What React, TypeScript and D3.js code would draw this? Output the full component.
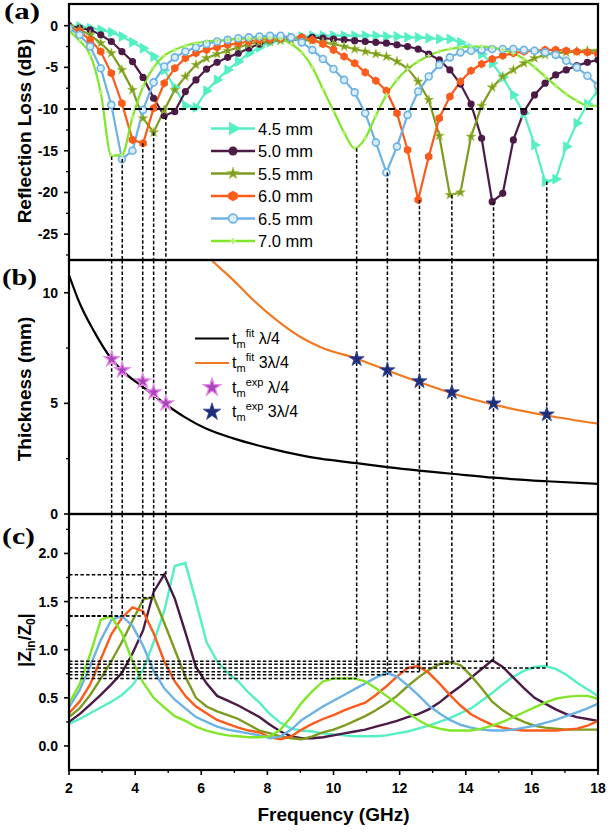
import React from "react";
import * as d3 from "d3";

// ---------- data ----------
const freq = [2, 2.32, 2.64, 2.96, 3.28, 3.6, 3.92, 4.24, 4.56, 4.88, 5.2, 5.52, 5.84, 6.16, 6.48, 6.8, 7.12, 7.44, 7.76, 8.08, 8.4, 8.72, 9.04, 9.36, 9.68, 10, 10.32, 10.64, 10.96, 11.28, 11.6, 11.92, 12.24, 12.56, 12.88, 13.2, 13.52, 13.84, 14.16, 14.48, 14.8, 15.12, 15.44, 15.76, 16.08, 16.4, 16.72, 17.04, 17.36, 17.68, 18];
const seriesNames = ["4.5 mm", "5.0 mm", "5.5 mm", "6.0 mm", "6.5 mm", "7.0 mm"];

const rl45 = [0.0, -0.1, -0.3, -0.5, -0.8, -1.3, -2.0, -2.7, -3.7, -5.3, -7.4, -9.6, -9.8, -7.8, -6.5, -5.3, -4.3, -3.3, -2.6, -2.0, -1.6, -1.4, -1.3, -1.2, -1.2, -1.2, -1.2, -1.2, -1.2, -1.2, -1.3, -1.3, -1.4, -1.4, -1.5, -1.6, -1.6, -2.0, -2.7, -3.4, -4.5, -6.2, -8.3, -10.5, -14.3, -18.7, -18.4, -14.5, -11.7, -9.4, -7.8];
const rl50 = [0.0, -0.3, -0.5, -1.1, -1.9, -3.1, -4.3, -6.2, -8.7, -10.8, -10.3, -7.9, -6.5, -5.2, -4.4, -3.8, -3.3, -2.7, -2.2, -1.8, -1.6, -1.5, -1.4, -1.4, -1.5, -1.6, -1.7, -1.8, -1.9, -2.0, -2.1, -2.3, -2.5, -2.8, -3.4, -4.1, -5.3, -7.0, -9.4, -13.5, -21.1, -20.1, -13.7, -10.3, -8.3, -6.9, -5.9, -5.3, -4.8, -4.4, -4.1];
const rl55 = [-0.1, -0.5, -1.1, -2.1, -3.3, -5.3, -7.7, -11.1, -12.8, -10.1, -7.7, -6.1, -4.7, -3.9, -3.4, -3.0, -2.6, -2.2, -2.0, -1.9, -1.8, -1.7, -1.7, -1.8, -2.0, -2.2, -2.5, -2.8, -3.1, -3.4, -3.7, -4.3, -5.1, -6.7, -8.9, -13.2, -20.3, -20.0, -13.3, -9.6, -7.4, -6.1, -5.3, -4.5, -3.9, -3.5, -3.3, -3.2, -3.1, -3.0, -3.0];
const rl60 = [-0.2, -0.7, -1.7, -3.1, -5.7, -9.3, -13.7, -14.1, -9.9, -6.9, -5.1, -3.9, -3.3, -2.9, -2.6, -2.3, -2.1, -1.9, -1.7, -1.6, -1.5, -1.4, -1.4, -1.7, -2.2, -2.9, -3.7, -4.5, -5.6, -6.6, -7.8, -10.5, -14.9, -20.9, -15.7, -11.1, -8.5, -6.7, -5.4, -4.6, -4.0, -3.6, -3.3, -3.1, -3.0, -2.9, -2.9, -3.0, -3.1, -3.2, -3.4];
const rl65 = [-0.3, -1.1, -2.5, -5.1, -9.5, -16.0, -15.0, -10.1, -6.8, -4.9, -3.8, -3.1, -2.6, -2.2, -1.9, -1.7, -1.5, -1.4, -1.3, -1.2, -1.2, -1.4, -2.0, -2.9, -4.0, -5.2, -6.5, -8.0, -10.5, -14.0, -17.6, -14.5, -10.7, -7.9, -6.1, -4.7, -3.8, -3.2, -3.0, -2.9, -2.8, -2.8, -2.8, -2.9, -3.0, -3.2, -3.5, -4.2, -5.0, -6.0, -7.2];
const rl70 = [-0.6, -1.8, -3.5, -8.0, -15.6, -15.5, -11.0, -7.3, -5.0, -3.6, -2.9, -2.4, -2.1, -1.9, -1.8, -1.7, -1.6, -1.55, -1.5, -1.5, -1.6, -2.2, -3.2, -5.0, -7.6, -10.2, -12.8, -14.7, -13.5, -10.8, -8.3, -6.5, -5.2, -4.3, -3.6, -3.1, -2.8, -2.6, -2.5, -2.5, -2.6, -2.9, -3.3, -4.0, -5.0, -6.1, -7.2, -8.2, -9.0, -9.6, -9.6];

const z45 = [0.23, 0.28, 0.34, 0.40, 0.46, 0.53, 0.63, 0.79, 1.08, 1.40, 1.87, 1.90, 1.50, 1.08, 0.88, 0.76, 0.67, 0.55, 0.45, 0.33, 0.24, 0.18, 0.16, 0.15, 0.13, 0.12, 0.11, 0.10, 0.10, 0.10, 0.11, 0.13, 0.15, 0.18, 0.21, 0.25, 0.29, 0.34, 0.39, 0.47, 0.55, 0.64, 0.72, 0.78, 0.82, 0.83, 0.80, 0.74, 0.66, 0.59, 0.52];
const z50 = [0.25, 0.33, 0.43, 0.53, 0.64, 0.76, 0.96, 1.20, 1.60, 1.78, 1.53, 1.18, 0.82, 0.65, 0.52, 0.47, 0.42, 0.36, 0.30, 0.22, 0.15, 0.10, 0.08, 0.08, 0.09, 0.11, 0.13, 0.15, 0.17, 0.20, 0.23, 0.26, 0.30, 0.33, 0.38, 0.45, 0.54, 0.62, 0.71, 0.80, 0.89, 0.82, 0.71, 0.60, 0.50, 0.44, 0.38, 0.33, 0.30, 0.28, 0.26];
const z55 = [0.30, 0.39, 0.53, 0.70, 0.88, 1.08, 1.30, 1.52, 1.55, 1.28, 1.00, 0.72, 0.50, 0.41, 0.36, 0.32, 0.28, 0.22, 0.16, 0.13, 0.10, 0.08, 0.07, 0.10, 0.14, 0.17, 0.21, 0.26, 0.31, 0.37, 0.44, 0.52, 0.62, 0.71, 0.79, 0.85, 0.87, 0.84, 0.73, 0.60, 0.46, 0.37, 0.30, 0.25, 0.21, 0.19, 0.18, 0.17, 0.17, 0.17, 0.17];
const z60 = [0.34, 0.46, 0.64, 0.90, 1.16, 1.33, 1.44, 1.40, 1.17, 0.88, 0.67, 0.52, 0.41, 0.34, 0.27, 0.23, 0.19, 0.16, 0.14, 0.09, 0.07, 0.10, 0.17, 0.23, 0.28, 0.32, 0.37, 0.41, 0.45, 0.53, 0.62, 0.72, 0.81, 0.83, 0.76, 0.65, 0.53, 0.42, 0.33, 0.27, 0.22, 0.19, 0.17, 0.16, 0.16, 0.16, 0.16, 0.17, 0.18, 0.21, 0.26];
const z65 = [0.40, 0.58, 0.83, 1.10, 1.31, 1.35, 1.25, 1.04, 0.78, 0.60, 0.48, 0.39, 0.30, 0.25, 0.20, 0.17, 0.15, 0.13, 0.11, 0.08, 0.10, 0.17, 0.27, 0.34, 0.41, 0.47, 0.53, 0.59, 0.65, 0.71, 0.76, 0.72, 0.63, 0.53, 0.42, 0.34, 0.27, 0.22, 0.19, 0.17, 0.16, 0.16, 0.17, 0.19, 0.21, 0.24, 0.27, 0.31, 0.35, 0.39, 0.44];
const z70 = [0.44, 0.64, 0.95, 1.31, 1.35, 1.17, 0.88, 0.66, 0.50, 0.40, 0.31, 0.26, 0.20, 0.16, 0.13, 0.11, 0.10, 0.09, 0.09, 0.10, 0.17, 0.30, 0.45, 0.57, 0.67, 0.70, 0.70, 0.70, 0.67, 0.60, 0.52, 0.44, 0.35, 0.27, 0.21, 0.18, 0.16, 0.16, 0.16, 0.18, 0.21, 0.25, 0.30, 0.35, 0.40, 0.45, 0.49, 0.51, 0.52, 0.52, 0.49];

// panel (b) fitted thickness curves
const fitQFreq = [2, 2.33, 2.74, 3.29, 3.61, 4.25, 4.93, 5.5, 6.16, 6.97, 7.98, 8.99, 9.6, 10.7, 11.63, 12.6, 13.58, 14.84, 16.45, 18];
const fitQThick = [10.8, 9.5, 8.3, 7.0, 6.48, 5.72, 4.95, 4.38, 3.85, 3.42, 3.0, 2.66, 2.5, 2.3, 2.12, 1.96, 1.82, 1.64, 1.48, 1.36];
const fit3QFreq = [6.1, 6.31, 6.97, 7.58, 8.28, 8.99, 9.6, 10.7, 11.63, 12.6, 13.58, 14.84, 16.45, 18];
const fit3QThick = [11.8, 11.48, 10.57, 9.66, 8.76, 8.01, 7.55, 7.02, 6.49, 5.96, 5.46, 4.95, 4.45, 4.08];

// experimental matching points
const q1Freq = [3.29, 3.61, 4.23, 4.56, 4.93];
const q1Thick = [7.0, 6.5, 6.0, 5.5, 5.0];
const q1RL = [-15.7, -16.0, -14.1, -12.8, -10.9];
const q1Z = [1.35, 1.35, 1.35, 1.54, 1.78];
const q3Freq = [10.7, 11.63, 12.6, 13.58, 14.84, 16.45];
const q3Thick = [7.0, 6.5, 6.0, 5.5, 5.0, 4.5];
const q3RL = [-14.7, -17.6, -20.9, -20.3, -21.1, -18.7];
const q3Z = [0.70, 0.74, 0.77, 0.85, 0.88, 0.81];

const freqTicks = [2, 4, 6, 8, 10, 12, 14, 16, 18];
const rlTicks = [0, -5, -10, -15, -20, -25];
const thickTicks = [0, 5, 10];
const zTicks = [0, 0.5, 1.0, 1.5, 2.0];

const legendB = [
  { sup: "fit", txt: " λ/4" },
  { sup: "fit", txt: " 3λ/4" },
  { sup: "exp", txt: " λ/4" },
  { sup: "exp", txt: " 3λ/4" },
];

// ---------- styles ----------
const colors = ["#55efc4", "#4b1a46", "#7d9c1f", "#fb5b1b", "#6cb3e3", "#80e628"];
const FONT = "Liberation Sans, Arial, Helvetica, sans-serif";

const hexagon = {
  draw(ctx: any, size: number) {
    const r = Math.sqrt(size / 2.598);
    for (let k = 0; k < 6; k++) {
      const a = (Math.PI / 3) * k + Math.PI / 6;
      const px = r * Math.cos(a), py = r * Math.sin(a);
      if (k === 0) ctx.moveTo(px, py); else ctx.lineTo(px, py);
    }
    ctx.closePath();
  },
};

function Marker({ s, cx, cy, scale = 1 }: { s: number; cx: number; cy: number; scale?: number }) {
  const c = colors[s];
  const t = `translate(${cx},${cy})`;
  if (s === 0) return <path d={d3.symbol(d3.symbolTriangle, 42 * scale * scale)() as string} transform={`${t} rotate(90)`} fill={c} stroke={c} strokeWidth={0.8} />;
  if (s === 1) return <circle cx={cx} cy={cy} r={3.6 * scale} fill={c} />;
  if (s === 2) return <path d={d3.symbol(d3.symbolStar, 30 * scale * scale)() as string} transform={t} fill={c} stroke="#a9c84a" strokeWidth={0.6} />;
  if (s === 3) return <path d={d3.symbol(hexagon as any, 48 * scale * scale)() as string} transform={t} fill={c} />;
  if (s === 4) return <circle cx={cx} cy={cy} r={3.5 * scale} fill="#d9edfa" stroke={c} strokeWidth={1.6} />;
  return <path d={d3.symbol(d3.symbolCross, 12 * scale * scale)() as string} transform={t} fill="#b8f27c" />;
}

export default function App() {
  const x = d3.scaleLinear().domain([2, 18]).range([69, 598]);
  const yA = d3.scaleLinear().domain([-28.1, 2.6]).range([260, 4]);
  const yB = d3.scaleLinear().domain([0, 11.48]).range([514, 260]);
  const yC = d3.scaleLinear().domain([-0.25, 2.41]).range([770, 514]);

  const rlSeries = [rl45, rl50, rl55, rl60, rl65, rl70];
  const zSeries = [z45, z50, z55, z60, z65, z70];

  const lineA = d3.line<number>().x((_, i) => x(freq[i])).y((d) => yA(d));
  const lineA7 = d3.line<number>().x((_, i) => x(freq[i])).y((d) => yA(d)).curve(d3.curveMonotoneX);
  const lineC = d3.line<number>().x((_, i) => x(freq[i])).y((d) => yC(d));
  const lineQ = d3.line<number>().x((_, i) => x(fitQFreq[i])).y((d) => yB(d)).curve(d3.curveMonotoneX);
  const line3Q = d3.line<number>().x((_, i) => x(fit3QFreq[i])).y((d) => yB(d)).curve(d3.curveMonotoneX);

  const starPath = d3.symbol(d3.symbolStar, 70)() as string;
  const starPathL = d3.symbol(d3.symbolStar, 95)() as string;

  const dash = { stroke: "#000", strokeWidth: 1.5, strokeDasharray: "3.5,2.2", fill: "none" };

  const minorRL = rlTicks.map((t) => t - 2.5);
  const minorB = [2.5, 7.5];
  const minorZ = zTicks.map((t) => t + 0.25).filter((t) => t < 2.4);
  const minorF = freqTicks.slice(0, -1).map((t) => t + 1);

  const tickLabel = { fontFamily: FONT, fontWeight: 700, fontSize: 14, fill: "#000" } as const;
  const axTitle = { fontFamily: FONT, fontWeight: 700, fontSize: 19, fill: "#000" } as const;
  const panelLab = { fontFamily: "Liberation Serif, Times New Roman, serif", fontWeight: 700, fontSize: 23, fill: "#000" } as const;

  return (
    <svg width={614} height={832} style={{ position: "absolute", left: 0, top: 0, background: "#fff" }}>
      <defs>
        <clipPath id="cA"><rect x={69} y={4} width={529} height={256} /></clipPath>
        <clipPath id="cB"><rect x={69} y={260} width={529} height={254} /></clipPath>
        <clipPath id="cC"><rect x={69} y={514} width={529} height={256} /></clipPath>
      </defs>
      <rect x={0} y={0} width={614} height={832} fill="#fff" />

      {/* ---------- panel (a) ---------- */}
      <g clipPath="url(#cA)">
        {rlSeries.map((s, k) => (
          <path key={k} d={(k === 5 ? lineA7 : lineA)(s) as string} fill="none" stroke={colors[k]} strokeWidth={2.2} />
        ))}
        {rlSeries.map((s, k) => (
          <g key={"m" + k}>{s.map((v, i) => <Marker key={i} s={k} cx={x(freq[i])} cy={yA(v)} />)}</g>
        ))}
        <line x1={69} x2={598} y1={yA(-10)} y2={yA(-10)} stroke="#000" strokeWidth={1.9} strokeDasharray="7,4" />
        {q1Freq.map((f, i) => <line key={"a1" + i} x1={x(f)} x2={x(f)} y1={yA(q1RL[i])} y2={260} {...dash} />)}
        {q3Freq.map((f, i) => <line key={"a3" + i} x1={x(f)} x2={x(f)} y1={yA(q3RL[i])} y2={260} {...dash} />)}
      </g>
      {/* legend (a) */}
      {seriesNames.map((n, k) => {
        const ly = 128.5 + k * 22.5;
        return (
          <g key={"la" + k}>
            <line x1={211} x2={255} y1={ly} y2={ly} stroke={colors[k]} strokeWidth={2.4} />
            <Marker s={k} cx={233} cy={ly} scale={1.25} />
            <text x={258} y={ly + 6} fontFamily={FONT} fontSize={16.5} fill="#000">{n}</text>
          </g>
        );
      })}

      {/* ---------- panel (b) ---------- */}
      <g clipPath="url(#cB)">
        {q1Freq.map((f, i) => <line key={"b1" + i} x1={x(f)} x2={x(f)} y1={260} y2={514} {...dash} />)}
        {q3Freq.map((f, i) => <line key={"b3" + i} x1={x(f)} x2={x(f)} y1={260} y2={514} {...dash} />)}
        <path d={lineQ(fitQThick) as string} fill="none" stroke="#000" strokeWidth={2.2} />
        <path d={line3Q(fit3QThick) as string} fill="none" stroke="#f07a22" strokeWidth={2.2} />
        {q1Freq.map((f, i) => (
          <path key={"s1" + i} d={starPath} transform={`translate(${x(f)},${yB(q1Thick[i])})`} fill="#a744b8" stroke="#e98ae9" strokeWidth={1.3} />
        ))}
        {q3Freq.map((f, i) => (
          <path key={"s3" + i} d={starPath} transform={`translate(${x(f)},${yB(q3Thick[i])})`} fill="#1d2d78" stroke="#33449a" strokeWidth={0.8} />
        ))}
      </g>
      {/* legend (b) */}
      {legendB.map((e, k) => {
        const ly = 338.5 + k * 24.5;
        return (
          <g key={"lb" + k}>
            {k === 0 && <line x1={195} x2={229} y1={ly} y2={ly} stroke="#000" strokeWidth={2.2} />}
            {k === 1 && <line x1={195} x2={229} y1={ly} y2={ly} stroke="#f07a22" strokeWidth={2.2} />}
            {k === 2 && <path d={starPathL} transform={`translate(212,${ly})`} fill="#a744b8" stroke="#e98ae9" strokeWidth={1.3} />}
            {k === 3 && <path d={starPathL} transform={`translate(212,${ly})`} fill="#1d2d78" stroke="#33449a" strokeWidth={0.8} />}
            <text x={232} y={ly + 5} fontFamily={FONT} fontSize={16} fill="#000">
              t<tspan fontSize={11} dy={4}>m</tspan>
              <tspan fontSize={11} dy={-11}>{e.sup}</tspan>
              <tspan dy={7}>{e.txt}</tspan>
            </text>
          </g>
        );
      })}

      {/* ---------- panel (c) ---------- */}
      <g clipPath="url(#cC)">
        {zSeries.map((s, k) => (
          <path key={k} d={lineC(s) as string} fill="none" stroke={colors[k]} strokeWidth={2.4} />
        ))}
        {q1Freq.map((f, i) => (
          <g key={"c1" + i}>
            <line x1={x(f)} x2={x(f)} y1={514} y2={yC(q1Z[i])} {...dash} />
            <line x1={69} x2={x(f)} y1={yC(q1Z[i])} y2={yC(q1Z[i])} {...dash} />
          </g>
        ))}
        {q3Freq.map((f, i) => (
          <g key={"c3" + i}>
            <line x1={x(f)} x2={x(f)} y1={514} y2={yC(q3Z[i])} {...dash} />
            <line x1={69} x2={x(f)} y1={yC(q3Z[i])} y2={yC(q3Z[i])} {...dash} />
          </g>
        ))}
      </g>

      {/* ---------- frames & ticks ---------- */}
      {[[4, 260], [260, 514], [514, 770]].map(([t, b], i) => (
        <rect key={"f" + i} x={69} y={t} width={529} height={b - t} fill="none" stroke="#000" strokeWidth={2.2} />
      ))}
      {rlTicks.map((t) => (
        <g key={"ra" + t}>
          <line x1={64} x2={69} y1={yA(t)} y2={yA(t)} stroke="#000" strokeWidth={1.6} />
          <text x={58} y={yA(t) + 5} textAnchor="end" {...tickLabel}>{String(t)}</text>
        </g>
      ))}
      {minorRL.map((t) => <line key={"rm" + t} x1={66} x2={69} y1={yA(t)} y2={yA(t)} stroke="#000" strokeWidth={1.3} />)}
      {thickTicks.map((t) => (
        <g key={"tb" + t}>
          <line x1={64} x2={69} y1={yB(t)} y2={yB(t)} stroke="#000" strokeWidth={1.6} />
          <text x={58} y={yB(t) + 5} textAnchor="end" {...tickLabel}>{String(t)}</text>
        </g>
      ))}
      {minorB.map((t) => <line key={"bm" + t} x1={66} x2={69} y1={yB(t)} y2={yB(t)} stroke="#000" strokeWidth={1.3} />)}
      {zTicks.map((t) => (
        <g key={"zc" + t}>
          <line x1={64} x2={69} y1={yC(t)} y2={yC(t)} stroke="#000" strokeWidth={1.6} />
          <text x={58} y={yC(t) + 5} textAnchor="end" {...tickLabel}>{t.toFixed(1)}</text>
        </g>
      ))}
      {minorZ.map((t) => <line key={"zm" + t} x1={66} x2={69} y1={yC(t)} y2={yC(t)} stroke="#000" strokeWidth={1.3} />)}
      {freqTicks.map((t) => (
        <g key={"fx" + t}>
          <line x1={x(t)} x2={x(t)} y1={770} y2={775} stroke="#000" strokeWidth={1.6} />
          <text x={x(t)} y={793} textAnchor="middle" {...tickLabel}>{String(t)}</text>
        </g>
      ))}
      {minorF.map((t) => <line key={"fm" + t} x1={x(t)} x2={x(t)} y1={770} y2={773} stroke="#000" strokeWidth={1.3} />)}

      {/* ---------- titles ---------- */}
      <text x={333.5} y={821} textAnchor="middle" {...axTitle}>Frequency (GHz)</text>
      <text transform="translate(31,131) rotate(-90)" textAnchor="middle" {...axTitle}>Reflection Loss (dB)</text>
      <text transform="translate(31,389) rotate(-90)" textAnchor="middle" {...axTitle}>Thickness (mm)</text>
      <text transform="translate(31,640) rotate(-90)" textAnchor="middle" fontFamily={FONT} fontWeight={700} fontSize={17.5}>
        |Z<tspan fontSize={12} dy={4}>in</tspan><tspan dy={-4}>/Z</tspan><tspan fontSize={12} dy={4}>0</tspan><tspan dy={-4}>|</tspan>
      </text>
      <text x={4} y={19} textLength={36} lengthAdjust="spacingAndGlyphs" {...panelLab}>(a)</text>
      <text x={2} y={285} textLength={35} lengthAdjust="spacingAndGlyphs" {...panelLab}>(b)</text>
      <text x={2} y={544} textLength={33} lengthAdjust="spacingAndGlyphs" {...panelLab}>(c)</text>
    </svg>
  );
}
